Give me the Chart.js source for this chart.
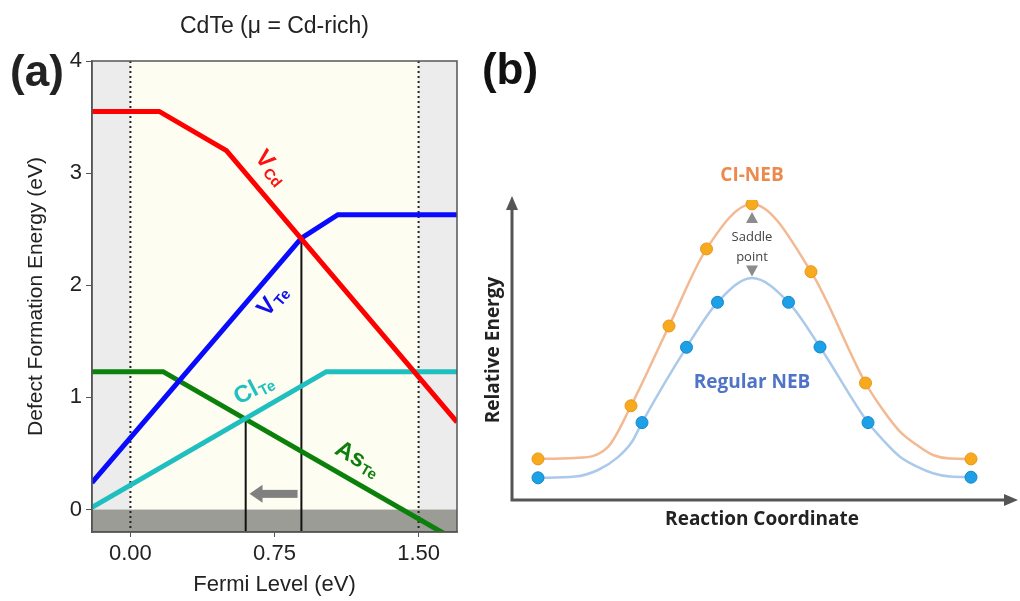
<!DOCTYPE html>
<html>
<head>
<meta charset="utf-8">
<script src="https://cdn.jsdelivr.net/npm/chart.js@4.4.0/dist/chart.umd.min.js"></script>
<style>
  body { margin: 0; background: #fff; }
  #wrap { position: relative; width: 1020px; height: 601px; overflow: hidden; }
  canvas { position: absolute; top: 0; }
</style>
</head>
<body>
<div id="wrap">
  <canvas id="chartA" width="480" height="601" style="left:0"></canvas>
  <canvas id="chartB" width="540" height="601" style="left:480px"></canvas>
</div>
<script>
// ---- panel (a): defect formation energies vs Fermi level ----
const xTicks = [0, 0.75, 1.5];
const yTicks = [0, 1, 2, 3, 4];
const bandEdges = [0, 1.5];              // VBM, CBM (dotted lines)

const vcdX = [-0.2, 0.15, 0.5, 1.7];
const vcdY = [3.55, 3.55, 3.2, 0.78];
const vteX = [-0.2, 0.89, 1.08, 1.7];
const vteY = [0.24, 2.42, 2.63, 2.63];
const cltX = [-0.2, 1.02, 1.7];
const cltY = [0.02, 1.23, 1.23];
const asX  = [-0.2, 0.17, 1.7];
const asY  = [1.23, 1.23, -0.28];

const pinX = [0.6, 0.89];                // Fermi level pinning positions
const pinY = [0.82, 2.42];
const shiftFrom = 0.87, shiftTo = 0.62, shiftY = 0.14;

// label: text, subscript, x, y, angle(deg), colour
const defectLabels = [
  ['V', 'Cd', 0.73, 3.05, 50, '#ff1010'],
  ['V', 'Te', 0.74, 1.86, -50, '#1010ee'],
  ['Cl', 'Te', 0.64, 1.07, -28, '#22c0c0'],
  ['As', 'Te', 1.18, 0.45, 30, '#0e7f0e']
];

// ---- panel (b): NEB schematic ----
const ciX  = [0.52, 2.38, 3.14, 3.89, 4.8, 5.98, 7.07, 9.18];
const ciY  = [1.37, 3.14, 5.8, 8.37, 9.87, 7.61, 3.9, 1.37];
const regX = [0.52, 2.6, 3.49, 4.11, 5.53, 6.16, 7.12, 9.18];
const regY = [0.74, 2.58, 5.09, 6.59, 6.59, 5.1, 2.58, 0.76];
const ciPathX  = [0.52, 1.26, 1.92, 2.38, 3.14, 3.89, 4.8, 5.98, 7.07, 7.42, 7.76, 8.1, 8.42, 8.76, 9.18];
const ciPathY  = [1.37, 1.4, 1.77, 3.14, 5.8, 8.37, 9.87, 7.61, 3.9, 3.0, 2.28, 1.83, 1.5, 1.38, 1.37];
const regPathX = [0.52, 1.26, 1.72, 2.12, 2.4, 2.6, 3.49, 4.11, 4.8, 5.53, 6.16, 7.12, 7.42, 7.76, 8.1, 8.42, 8.76, 9.18];
const regPathY = [0.74, 0.78, 1.0, 1.43, 1.94, 2.58, 5.09, 6.59, 7.4, 6.59, 5.1, 2.58, 2.0, 1.44, 1.11, 0.89, 0.78, 0.76];
const saddleX = 4.8, saddleTop = 9.4, saddleBottom = 7.65;

const pts = (xs, ys) => xs.map((x, i) => ({x: x, y: ys[i]}));

Chart.defaults.font.family = 'Liberation Sans, Arial, sans-serif';
Chart.defaults.color = '#222';

const panelA = {
  id: 'panelA',
  beforeDraw(chart) {
    const {ctx, chartArea: a, scales: {x, y}} = chart;
    const x0 = x.getPixelForValue(bandEdges[0]), x1 = x.getPixelForValue(bandEdges[1]);
    const y0 = y.getPixelForValue(0);
    ctx.save();
    ctx.fillStyle = '#ececec';
    ctx.fillRect(a.left, a.top, a.width, a.height);
    ctx.fillStyle = '#fdfdf1';
    ctx.fillRect(x0, a.top, x1 - x0, a.height);
    ctx.fillStyle = '#9c9c96';
    ctx.fillRect(a.left, y0, a.width, a.bottom - y0);
    ctx.strokeStyle = '#222';
    ctx.lineWidth = 2;
    ctx.setLineDash([2, 3]);
    bandEdges.forEach(v => {
      const px = x.getPixelForValue(v);
      ctx.beginPath(); ctx.moveTo(px, a.top); ctx.lineTo(px, a.bottom); ctx.stroke();
    });
    ctx.setLineDash([]);
    // pinning lines
    ctx.lineWidth = 2;
    ctx.strokeStyle = '#111';
    pinX.forEach((v, i) => {
      const px = x.getPixelForValue(v);
      ctx.beginPath(); ctx.moveTo(px, a.bottom); ctx.lineTo(px, y.getPixelForValue(pinY[i])); ctx.stroke();
    });
    // shift arrow
    const ax0 = x.getPixelForValue(shiftFrom), ax1 = x.getPixelForValue(shiftTo), ay = y.getPixelForValue(shiftY);
    ctx.fillStyle = '#808080';
    ctx.fillRect(ax1 + 12, ay - 4, ax0 - ax1 - 12, 8);
    ctx.beginPath();
    ctx.moveTo(ax1, ay); ctx.lineTo(ax1 + 13, ay - 9); ctx.lineTo(ax1 + 13, ay + 9); ctx.closePath();
    ctx.fill();
    ctx.restore();
  },
  afterDraw(chart) {
    const {ctx, chartArea: a, scales: {x, y}} = chart;
    ctx.save();
    ctx.strokeStyle = '#555';
    ctx.lineWidth = 1.5;
    ctx.strokeRect(a.left, a.top, a.width, a.height);
    // title
    ctx.fillStyle = '#222';
    ctx.textAlign = 'center';
    ctx.textBaseline = 'middle';
    ctx.font = '23px Liberation Sans';
    ctx.fillText('CdTe (\u03bc = Cd-rich)', (a.left + a.right) / 2, 27);
    ctx.font = 'bold 44px Liberation Sans';
    ctx.fillText('(a)', 37, 74);
    // defect labels
    defectLabels.forEach(([main, sub, vx, vy, ang, col]) => {
      ctx.save();
      ctx.translate(x.getPixelForValue(vx), y.getPixelForValue(vy));
      ctx.rotate(ang * Math.PI / 180);
      ctx.fillStyle = col;
      ctx.font = 'bold 24px Liberation Sans';
      const w1 = ctx.measureText(main).width;
      ctx.font = 'bold 15px Liberation Sans';
      const w2 = ctx.measureText(sub).width;
      const s = -(w1 + w2) / 2;
      ctx.textAlign = 'left';
      ctx.textBaseline = 'middle';
      ctx.font = 'bold 24px Liberation Sans';
      ctx.fillText(main, s, 0);
      ctx.font = 'bold 15px Liberation Sans';
      ctx.fillText(sub, s + w1 + 1, 6);
      ctx.restore();
    });
    ctx.restore();
  }
};

const lineSet = (xs, ys, col) => ({
  data: pts(xs, ys), showLine: true, borderColor: col, borderWidth: 5,
  pointRadius: 0, tension: 0, borderJoinStyle: 'miter'
});

new Chart('chartA', {
  type: 'scatter',
  data: {
    datasets: [
      lineSet(vcdX, vcdY, '#ff0000'),
      lineSet(vteX, vteY, '#0a0aff'),
      lineSet(cltX, cltY, '#1fbfbf'),
      lineSet(asX, asY, '#0b800b')
    ]
  },
  options: {
    responsive: false,
    animation: false,
    devicePixelRatio: 1,
    layout: {padding: {top: 61, right: 23, bottom: 0, left: 0}},
    plugins: {legend: {display: false}, tooltip: {enabled: false}},
    scales: {
      x: {
        type: 'linear', min: -0.2, max: 1.7,
        afterBuildTicks: s => { s.ticks = xTicks.map(v => ({value: v})); },
        afterFit: s => { s.height = 69; },
        ticks: {callback: v => v.toFixed(2), font: {size: 22}, color: '#222', padding: 4},
        grid: {drawOnChartArea: false, tickLength: 5, color: '#555'},
        border: {color: '#555', width: 1.5},
        title: {display: true, text: 'Fermi Level (eV)', font: {size: 22}, color: '#222', padding: {top: 0, bottom: 3}}
      },
      y: {
        type: 'linear', min: -0.2, max: 4,
        afterBuildTicks: s => { s.ticks = yTicks.map(v => ({value: v})); },
        afterFit: s => { s.width = 92; },
        ticks: {font: {size: 22}, color: '#222', padding: 4},
        grid: {drawOnChartArea: false, tickLength: 6, color: '#555'},
        border: {color: '#555', width: 1.5},
        title: {display: true, text: 'Defect Formation Energy (eV)', font: {size: 21}, color: '#222', padding: {top: 24, bottom: 0}}
      }
    }
  },
  plugins: [panelA]
});

const panelB = {
  id: 'panelB',
  afterDraw(chart) {
    const {ctx, chartArea: a, scales: {x, y}} = chart;
    ctx.save();
    // axes arrows
    ctx.strokeStyle = '#555';
    ctx.fillStyle = '#555';
    ctx.lineWidth = 3;
    ctx.beginPath();
    ctx.moveTo(a.left, a.top + 8); ctx.lineTo(a.left, a.bottom); ctx.lineTo(a.right - 4, a.bottom);
    ctx.stroke();
    ctx.beginPath();
    ctx.moveTo(a.left, a.top - 4); ctx.lineTo(a.left - 6, a.top + 10); ctx.lineTo(a.left + 6, a.top + 10); ctx.closePath();
    ctx.fill();
    ctx.beginPath();
    ctx.moveTo(a.right + 6, a.bottom); ctx.lineTo(a.right - 8, a.bottom - 6); ctx.lineTo(a.right - 8, a.bottom + 6); ctx.closePath();
    ctx.fill();
    // labels
    const cx = x.getPixelForValue(saddleX);
    ctx.textAlign = 'center';
    ctx.textBaseline = 'middle';
    ctx.font = 'bold 44px Liberation Sans';
    ctx.fillStyle = '#111';
    ctx.fillText('(b)', 30, 72);
    ctx.font = 'bold 19px Open Sans';
    ctx.fillStyle = '#eb8a4c';
    ctx.fillText('CI-NEB', cx, y.getPixelForValue(10.8));
    ctx.fillStyle = '#4f74c6';
    ctx.fillText('Regular NEB', cx, y.getPixelForValue(3.9));
    ctx.font = '13px Open Sans';
    ctx.fillStyle = '#444';
    ctx.fillText('Saddle', cx, y.getPixelForValue(8.75));
    ctx.fillText('point', cx, y.getPixelForValue(8.1));
    ctx.fillStyle = '#8c8c8c';
    const yt = y.getPixelForValue(saddleTop), yb = y.getPixelForValue(saddleBottom);
    ctx.beginPath(); ctx.moveTo(cx, yt - 6); ctx.lineTo(cx - 6, yt + 5); ctx.lineTo(cx + 6, yt + 5); ctx.closePath(); ctx.fill();
    ctx.beginPath(); ctx.moveTo(cx, yb + 6); ctx.lineTo(cx - 6, yb - 5); ctx.lineTo(cx + 6, yb - 5); ctx.closePath(); ctx.fill();
    ctx.restore();
  }
};

new Chart('chartB', {
  type: 'scatter',
  data: {
    datasets: [
      {data: pts(ciX, ciY), pointRadius: 6, backgroundColor: '#f8aa1e', borderColor: '#e8951a', borderWidth: 1},
      {data: pts(regX, regY), pointRadius: 6, backgroundColor: '#1ea0e6', borderColor: '#1286cc', borderWidth: 1},
      {data: pts(ciPathX, ciPathY), showLine: true, pointRadius: 0, borderColor: '#f3b992', borderWidth: 2.5, cubicInterpolationMode: 'monotone'},
      {data: pts(regPathX, regPathY), showLine: true, pointRadius: 0, borderColor: '#abc9ea', borderWidth: 2.5, cubicInterpolationMode: 'monotone'}
    ]
  },
  options: {
    responsive: false,
    animation: false,
    devicePixelRatio: 1,
    layout: {padding: {top: 200, right: 8, bottom: 0, left: 0}},
    plugins: {legend: {display: false}, tooltip: {enabled: false}},
    scales: {
      x: {
        type: 'linear', min: 0, max: 10,
        afterFit: s => { s.height = 101; },
        ticks: {display: false},
        grid: {display: false},
        border: {display: false},
        title: {display: true, text: 'Reaction Coordinate', font: {family: 'Open Sans', size: 19, weight: 'bold'}, color: '#222', padding: {top: 0, bottom: 70}}
      },
      y: {
        type: 'linear', min: 0, max: 10,
        afterFit: s => { s.width = 32; },
        ticks: {display: false},
        grid: {display: false},
        border: {display: false},
        title: {display: true, text: 'Relative Energy', font: {family: 'Open Sans', size: 19, weight: 'bold'}, color: '#222', padding: {top: 2, bottom: 0}}
      }
    }
  },
  plugins: [panelB]
});
</script>
</body>
</html>
